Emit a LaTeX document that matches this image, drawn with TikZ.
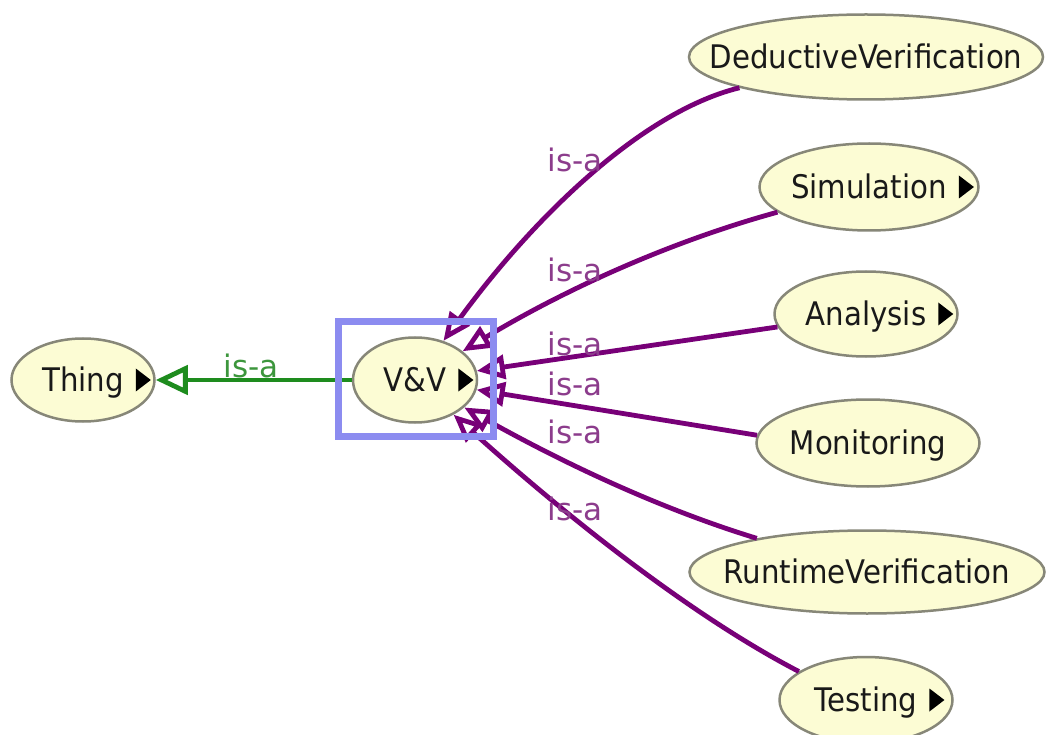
\documentclass[tikz,border=0pt]{standalone}
\usepackage{fontspec}
\setmainfont{DejaVu Sans}[FakeStretch=0.9]
\newfontfamily\lblfont{DejaVu Sans}
\usetikzlibrary{arrows.meta,shapes.geometric}
\definecolor{nodefill}{RGB}{252,252,212}
\definecolor{nodeborder}{RGB}{135,135,120}
\definecolor{isapurple}{RGB}{120,0,120}
\definecolor{isalabel}{RGB}{140,60,140}
\definecolor{thinggreen}{RGB}{30,140,30}
\definecolor{greenlabel}{RGB}{60,150,60}
\definecolor{selblue}{RGB}{140,140,240}
\newcommand\tri{\tikz[x=1pt,y=1pt]\fill[black,draw=none] (0,0)--(0,23)--(15,11.5)--cycle;}
\newcommand\clstri[1]{\makebox[0pt]{#1\rlap{\hspace{12pt}\tri}}}
\newcommand\clsplain[1]{\makebox[0pt]{#1}}
\begin{document}
\begin{tikzpicture}[x=1pt,y=-1pt,
  cls/.style={ellipse, draw=nodeborder, line width=2.5pt, fill=nodefill, inner sep=0pt,
    text height=23pt, text depth=0pt, font=\fontsize{32.5pt}{36pt}\selectfont, text=black!90},
  isa/.style={draw=isapurple, line width=4.8pt, -{Triangle[open,length=28pt,width=24pt]}},
  thingedge/.style={draw=thinggreen, line width=4.8pt, -{Triangle[open,length=32pt,width=29pt]}},
  isalbl/.style={font=\lblfont\fontsize{31pt}{34pt}\selectfont, text=isalabel, inner sep=0pt},
  greenlbl/.style={font=\lblfont\fontsize{31pt}{34pt}\selectfont, text=greenlabel, inner sep=0pt}
]
\useasboundingbox[fill=white] (0,0) rectangle (1047,735);

% nodes
\node[cls, minimum width=143pt, minimum height=83pt] (thing) at (83,380) {\clstri{Thing}};
\node[cls, minimum width=124pt, minimum height=85pt] (vv) at (415,380) {\clstri{V\&V}};
\node[cls, minimum width=354pt, minimum height=85pt] (ded) at (866,57) {\clsplain{DeductiveVerification}};
\node[cls, minimum width=219pt, minimum height=87pt] (sim) at (869,187) {\clstri{Simulation}};
\node[cls, minimum width=183pt, minimum height=85pt] (ana) at (866,314) {\clstri{Analysis}};
\node[cls, minimum width=223pt, minimum height=87pt] (mon) at (868,443) {\clsplain{Monitoring}};
\node[cls, minimum width=355pt, minimum height=83pt] (rt) at (867,572) {\clsplain{RuntimeVerification}};
\node[cls, minimum width=173pt, minimum height=86pt] (test) at (866,700) {\clstri{Testing}};

% edges
\draw[thingedge] (vv) -- (thing);
\draw[isa] (ded) .. controls (640,112) and (530,222) .. (vv);
\draw[isa] (sim) .. controls (669,242) and (564,290) .. (vv);
\draw[isa] (ana) -- (vv);
\draw[isa] (mon.176) -- (vv.-9);
\draw[isa] (rt) .. controls (664,510) and (569,466) .. (vv);
\draw[isa] (test.157) .. controls (690,615) and (565,515) .. (vv);

% labels
\node[greenlbl] (g1) at (251,366) {is-a};
\node[isalbl] (l1) at (575,160) {is-a};
\node[isalbl] (l2) at (575,270) {is-a};
\node[isalbl] (l3) at (575,344) {is-a};
\node[isalbl] (l4) at (575,384) {is-a};
\node[isalbl] (l5) at (575,432) {is-a};
\node[isalbl] (l6) at (575,509) {is-a};

% selection frame
\node[draw=selblue, line width=7pt, minimum width=155pt, minimum height=115pt, inner sep=0pt] (sel) at (416,379) {};
\end{tikzpicture}
\end{document}
